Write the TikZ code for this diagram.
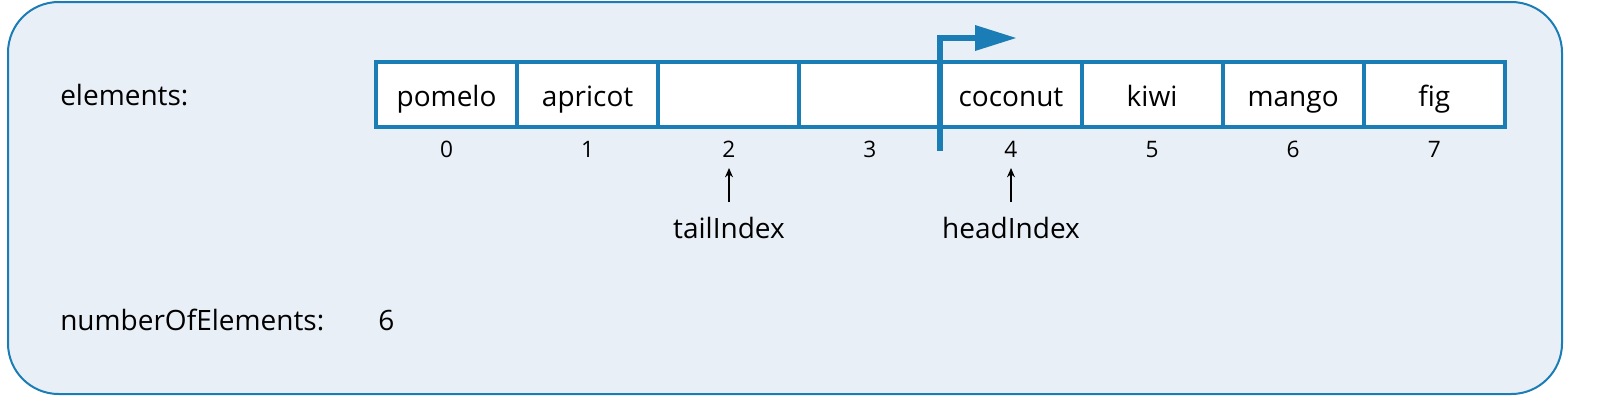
\documentclass[tikz,border=0pt]{standalone}
\usepackage{fontspec}
\setmainfont{Open Sans}
\usetikzlibrary{arrows.meta}
\definecolor{qblue}{HTML}{1B7DB6}
\definecolor{qbg}{HTML}{E9EFF7}
\begin{document}
\begin{tikzpicture}[x=0.75pt,y=-0.75pt,
  lab/.style={font=\fontsize{21}{25}\selectfont,anchor=base west,inner sep=0},
  txt/.style={font=\fontsize{21}{25}\selectfont,anchor=base},
  idx/.style={font=\fontsize{17}{20}\selectfont,anchor=base},
  ptr/.style={-{Stealth[length=7pt,width=6pt]},line width=0.9pt}]
\draw[qblue,line width=1.5pt,fill=qbg,rounded corners=38pt] (8,2) rectangle (1562,394);
\node[lab] (el) at (60,105) {elements:};
\node[lab] (ne) at (60,330) {numberOfElements:};
\node[lab] (nv) at (378,330) {6};
\foreach \i/\t in {0/pomelo,1/apricot,2/,3/,4/coconut,5/kiwi,6/mango,7/fig}{
  \pgfmathsetmacro\xa{376+141.1*\i}
  \pgfmathsetmacro\xb{376+141.1*(\i+1)}
  \draw[qblue,line width=3pt,fill=white] (\xa,62) rectangle (\xb,127);
  \node[txt] (c\i) at ({(\xa+\xb)/2},106) {\t};
  \node[idx] (i\i) at ({(\xa+\xb)/2},157) {\i};
}
\node[txt] (ti) at (729,238) {tailIndex};
\node[txt] (hi) at (1011,238) {headIndex};
\coordinate (t0) at (729,202); \coordinate (t1) at (729,168);
\coordinate (h0) at (1011,202); \coordinate (h1) at (1011,168);
\draw[ptr] (t0) -- (t1);
\draw[ptr] (h0) -- (h1);
\coordinate (b0) at (940,151);
\coordinate (b1) at (940,38);
\draw[qblue,line width=3.8pt] (b0) -- (b1) -- (976,38);
\fill[qblue] (1016,38) -- (975,25) -- (975,51) -- cycle;
\pgfresetboundingbox
\useasboundingbox (0,0) rectangle (1600,404);
\end{tikzpicture}
\end{document}
